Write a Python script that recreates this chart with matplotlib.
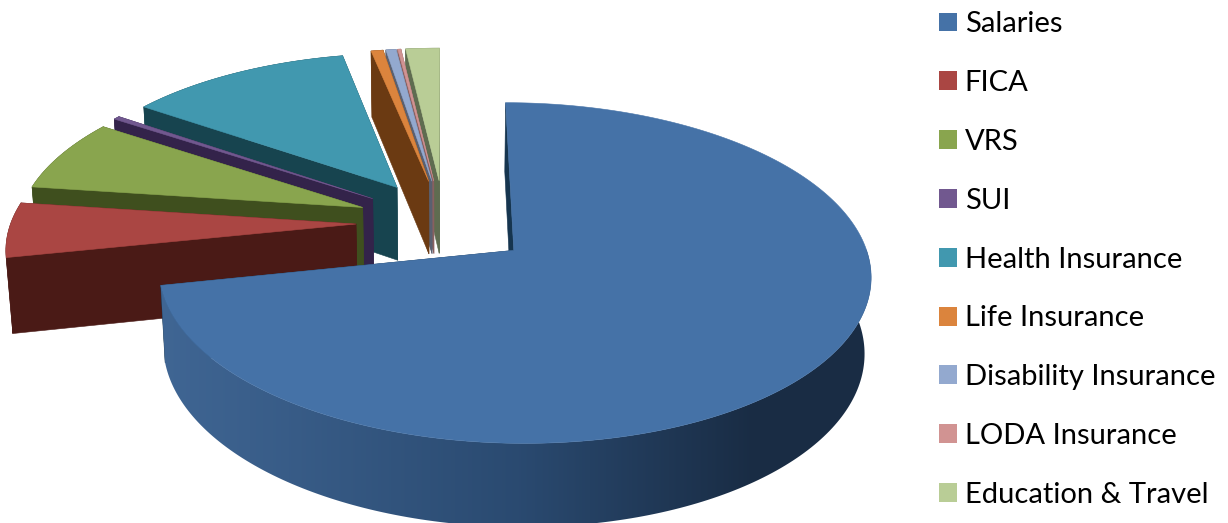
import matplotlib
matplotlib.use('Agg')
import matplotlib.pyplot as plt
from matplotlib.patches import Patch, Polygon
import numpy as np

labels = ['Salaries', 'FICA', 'VRS', 'SUI', 'Health Insurance', 'Life Insurance',
          'Disability Insurance', 'LODA Insurance', 'Education & Travel']
values = [71.7, 5.4, 7.2, 0.35, 12.1, 0.65, 0.55, 0.17, 1.83]
top_colors = ['#4572a7', '#aa4643', '#89a54e', '#71588f', '#4198af',
              '#db843d', '#93a9cf', '#d19392', '#b9cd96']
side_colors = ['#16354f', '#4a1a16', '#3f4f1e', '#33234a', '#17444f',
               '#6b3a12', '#5a6070', '#8a6060', '#5f6c50']

# camera settings for the tilted pie
cx, cy = 444, 222.5
rx, ry = 345, 160
persp = 0.13
drop = 0.015
thick = 75.5
explode_x, explode_y = 0.255, 0.27


def project(u, v, depth=0.0):
    w = 1 + persp * v + drop * depth
    return cx + rx * u / w, cy + (thick * depth - ry * v) / w


def wall(u, v, color, z):
    # side face under a run of points on the top face
    x0, y0 = project(u, v)
    x1, y1 = project(u[::-1], v[::-1], 1.0)
    return ax.fill(np.r_[x0, x1], np.r_[y0, y1], color=color, lw=0.4, zorder=z)[0]


fig = plt.figure(figsize=(12.28, 5.23), dpi=100)
ax = fig.add_axes([0, 0, 1, 1])

edges = np.cumsum([0] + values) / sum(values) * 2 * np.pi

# far slices first so the nearer ones paint over them
for i in range(len(values) - 1, -1, -1):
    start, end = edges[i], edges[i + 1]
    mid = (start + end) / 2
    ou, ov = explode_x * np.sin(mid), explode_y * np.cos(mid)
    th = np.linspace(start, end, max(int((end - start) * 60), 3))
    u, v = ou + np.sin(th), ov + np.cos(th)
    z = 10 + (len(values) - i) * 5 if i > 0 else 60

    wall(np.array([ou, u[-1]]), np.array([ov, v[-1]]), side_colors[i], z)
    wall(np.array([ou, u[0]]), np.array([ov, v[0]]), side_colors[i], z + 1)
    if i == 0:
        # rim of the big slice darkens from left to right
        x0, y0 = project(u, v)
        x1, y1 = project(u[::-1], v[::-1], 1.0)
        rim = Polygon(np.c_[np.r_[x0, x1], np.r_[y0, y1]], transform=ax.transData,
                      fc='none', ec='none')
        ax.add_patch(rim)
        stops = np.array([[0.25, 0.40, 0.58], [0.165, 0.29, 0.44], [0.10, 0.175, 0.27], [0.10, 0.175, 0.27]])
        xs = np.linspace(0, 1, 512)
        grad = np.stack([np.interp(xs, [0, 0.5, 0.82, 1], stops[:, c]) for c in range(3)], axis=-1)
        im = ax.imshow(grad[np.newaxis, :, :], extent=(160, 880, 525, 250), aspect='auto', zorder=z + 2)
        im.set_clip_path(rim)
    else:
        wall(u, v, side_colors[i], z + 2)

    px, py = project(np.r_[ou, u], np.r_[ov, v])
    ax.fill(px, py, color=top_colors[i], lw=0.4, zorder=z + 3)

ax.set_xlim(0, 1228)
ax.set_ylim(523, 0)
ax.axis('off')

handles = [Patch(facecolor=c, edgecolor='none') for c in top_colors]
ax.legend(handles, labels, loc='upper left', bbox_to_anchor=(939 / 1228, 1 - 11.3 / 523),
          frameon=False, prop={'family': 'Lato', 'size': 21}, handlelength=0.62,
          handleheight=0.62, handletextpad=0.26, labelspacing=1.125,
          borderpad=0, borderaxespad=0, labelcolor='#000000')

fig.savefig('out.png', dpi=100)
